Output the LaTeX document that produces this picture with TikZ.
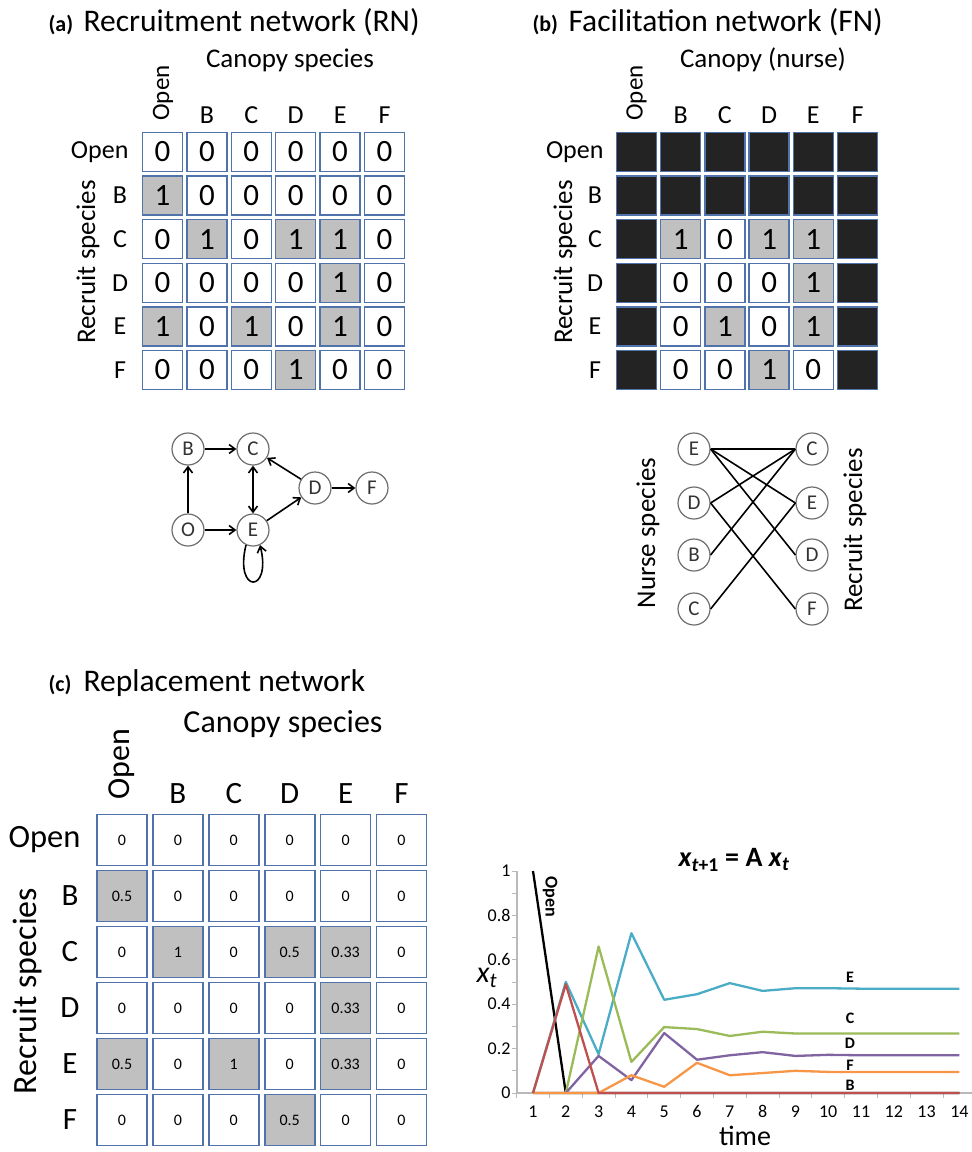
\documentclass[tikz,border=0pt]{standalone}
\usepackage{fontspec}
\setmainfont{Carlito}
\usetikzlibrary{arrows.meta}

\definecolor{cellblue}{RGB}{79,115,170}
\definecolor{cellgray}{RGB}{192,192,192}
\definecolor{cellblack}{RGB}{35,35,35}
\definecolor{axisgray}{RGB}{185,185,185}
\definecolor{nodegray}{RGB}{110,110,110}
\definecolor{serE}{RGB}{75,172,198}
\definecolor{serC}{RGB}{155,187,89}
\definecolor{serD}{RGB}{128,100,162}
\definecolor{serF}{RGB}{247,150,70}
\definecolor{serB}{RGB}{192,80,77}

\newcommand\fs[1]{\fontsize{#1}{#1}\selectfont}

\begin{document}
\begin{tikzpicture}[x=1pt,y=-1pt,
  title/.style={anchor=base west, font=\fs{31.5}},
  tag/.style={anchor=base west, font=\bfseries\fs{22}},
  axislab/.style={font=\fs{27}},
  collab/.style={anchor=base, font=\fs{26}},
  rowlab/.style={font=\fs{26}},
  cellA/.style={draw=cellblue, line width=1.5pt, minimum width=40pt, minimum height=39pt, inner sep=0pt, font=\fs{31}},
  cellC/.style={draw=cellblue, line width=1.6pt, minimum width=50pt, minimum height=51pt, inner sep=0pt, font=\fs{16}},
  spnode/.style={circle, draw=nodegray, line width=1.2pt, minimum size=32pt, inner sep=0pt, font=\fs{21}, text=black!80},
  arr/.style={line width=1.6pt, -{Straight Barb[length=6pt,width=9pt,line width=1.6pt]}},
  link/.style={line width=1.6pt},
  series/.style={line width=2.3pt, line join=round},
  ticklab/.style={font=\fs{18}},
  curvelab/.style={font=\bfseries\fs{16}}]
\useasboundingbox (0,0) rectangle (972,1152);

% ---------------- (a) Recruitment network ----------------
\node[tag] (ta) at (45,31) {(a)};
\node[title] (tta) at (80,31) {Recruitment network (RN)};
\node[axislab, anchor=base] (acan) at (290,67) {Canopy species};
\node[axislab, rotate=90, font=\fs{25}] (aopen) at (163,93) {Open};
\foreach \l [count=\c] in {B,C,D,E,F}
  \node[collab] (acol-\l) at ({162.5+44.4*\c},123) {\l};
\node[rowlab, anchor=east] (arow-O) at (132,152) {Open};
\foreach \l [count=\r] in {B,C,D,E,F}
  \node[rowlab] (arow-\l) at (120,{152+43.6*\r}) {\l};
\node[axislab, rotate=90] (arec) at (88,262) {Recruit species};

\foreach \y/\r/\row in {
  152/0/{0/white,0/white,0/white,0/white,0/white,0/white},
  195.6/1/{1/cellgray,0/white,0/white,0/white,0/white,0/white},
  239.2/2/{0/white,1/cellgray,0/white,1/cellgray,1/cellgray,0/white},
  282.8/3/{0/white,0/white,0/white,0/white,1/cellgray,0/white},
  326.4/4/{1/cellgray,0/white,1/cellgray,0/white,1/cellgray,0/white},
  370/5/{0/white,0/white,0/white,1/cellgray,0/white,0/white}}
{
  \foreach \v/\f [count=\c from 0] in \row
    \node[cellA, fill=\f] (a-\r-\c) at ({162.5+44.4*\c},\y) {\v};
}

% directed recruitment graph
\node[spnode] (gB) at (188,449) {B};
\node[spnode] (gC) at (253,449) {C};
\node[spnode] (gD) at (315,488) {D};
\node[spnode] (gF) at (372,488) {F};
\node[spnode] (gO) at (188,530) {O};
\node[spnode] (gE) at (253,530) {E};
\draw[arr] (gO) -- (gB);
\draw[arr] (gB) -- (gC);
\draw[arr] (gO) -- (gE);
\draw[arr, {Straight Barb[length=6pt,width=9pt,line width=1.6pt]}-{Straight Barb[length=6pt,width=9pt,line width=1.6pt]}] (gC) -- (gE);
\draw[arr] (gD) -- (gC);
\draw[arr] (gE) -- (gD);
\draw[arr] (gD) -- (gF);
\draw[arr] (gE.245) .. controls (234,594) and (272,594) .. (gE.295);

% ---------------- (b) Facilitation network ----------------
\node[tag] (tb) at (529,31) {(b)};
\node[title] (ttb) at (565,31) {Facilitation network (FN)};
\node[axislab, anchor=base] (bcan) at (763,67) {Canopy (nurse)};
\node[axislab, rotate=90, font=\fs{25}] (bopen) at (636.5,93) {Open};
\foreach \l [count=\c] in {B,C,D,E,F}
  \node[collab] (bcol-\l) at ({636.5+44.2*\c},123) {\l};
\node[rowlab, anchor=east] (brow-O) at (607,152) {Open};
\foreach \l [count=\r] in {B,C,D,E,F}
  \node[rowlab] (brow-\l) at (595,{152+43.6*\r}) {\l};
\node[axislab, rotate=90] (brec) at (565,262) {Recruit species};

\foreach \y/\r/\row in {
  152/0/{/cellblack,/cellblack,/cellblack,/cellblack,/cellblack,/cellblack},
  195.6/1/{/cellblack,/cellblack,/cellblack,/cellblack,/cellblack,/cellblack},
  239.2/2/{/cellblack,1/cellgray,0/white,1/cellgray,1/cellgray,/cellblack},
  282.8/3/{/cellblack,0/white,0/white,0/white,1/cellgray,/cellblack},
  326.4/4/{/cellblack,0/white,1/cellgray,0/white,1/cellgray,/cellblack},
  370/5/{/cellblack,0/white,0/white,1/cellgray,0/white,/cellblack}}
{
  \foreach \v/\f [count=\c from 0] in \row
    \node[cellA, fill=\f] (b-\r-\c) at ({636.5+44.2*\c},\y) {\v};
}

% bipartite nurse--recruit graph
\node[spnode] (nE) at (694,449) {E};
\node[spnode] (nD) at (694,503) {D};
\node[spnode] (nB) at (694,555) {B};
\node[spnode] (nC) at (694,609) {C};
\node[spnode] (rC) at (812,449) {C};
\node[spnode] (rE) at (812,503) {E};
\node[spnode] (rD) at (812,555) {D};
\node[spnode] (rF) at (812,609) {F};
\draw[link] (nE.east) -- (rC.west);
\draw[link] (nE.east) -- (rE.west);
\draw[link] (nE.east) -- (rD.west);
\draw[link] (nD.east) -- (rC.west);
\draw[link] (nD.east) -- (rF.west);
\draw[link] (nB.east) -- (rC.west);
\draw[link] (nC.east) -- (rE.west);
\node[axislab, rotate=90] (nlab) at (648,533) {Nurse species};
\node[axislab, rotate=90] (rlab) at (855,530) {Recruit species};

% ---------------- (c) Replacement network ----------------
\node[tag] (tc) at (45,691) {(c)};
\node[title] (ttc) at (80,691) {Replacement network};
\node[font=\fs{32}, anchor=base] (ccan) at (283,732) {Canopy species};
\node[font=\fs{32}, rotate=90] (copen) at (122,764) {Open};
\foreach \l [count=\c] in {B,C,D,E,F}
  \node[font=\fs{31}, anchor=base] (ccol-\l) at ({122+55.9*\c},803) {\l};
\node[font=\fs{32.5}, anchor=east] (crow-O) at (84,840) {Open};
\foreach \l [count=\r] in {B,C,D,E,F}
  \node[font=\fs{31}] (crow-\l) at (70,{840+56*\r}) {\l};
\node[font=\fs{34}, rotate=90] (crec) at (28,991) {Recruit species};

\foreach \y/\r/\row in {
  840/0/{0/white,0/white,0/white,0/white,0/white,0/white},
  896/1/{0.5/cellgray,0/white,0/white,0/white,0/white,0/white},
  952/2/{0/white,1/cellgray,0/white,0.5/cellgray,0.33/cellgray,0/white},
  1008/3/{0/white,0/white,0/white,0/white,0.33/cellgray,0/white},
  1064/4/{0.5/cellgray,0/white,1/cellgray,0/white,0.33/cellgray,0/white},
  1120/5/{0/white,0/white,0/white,0.5/cellgray,0/white,0/white}}
{
  \foreach \v/\f [count=\c from 0] in \row
    \node[cellC, fill=\f] (c-\r-\c) at ({122+55.9*\c},\y) {\v};
}

% ---------------- dynamics plot ----------------
\node[font=\bfseries\fs{28}] (ptitle) at (734,860)
  {\textit{x}\textsubscript{\textit{t}+1} = A \textit{x}\textsubscript{\textit{t}}};
\node[font=\itshape\fs{30}, inner sep=0pt] (pylab) at (487,978) {x\textsubscript{t}};
\node[font=\fs{28}, anchor=base] (pxlab) at (745,1145) {time};

\draw[axisgray, line width=1.2pt] (517,871) -- (517,1093) -- (972,1093);
\foreach \k in {0,...,10}
  \draw[axisgray, line width=1pt] (517,{1093-22.2*\k}) -- (512,{1093-22.2*\k});
\foreach \k in {1,...,14}
  \draw[axisgray, line width=1pt] ({533+32.8*(\k-1)-16.4},1093) -- ({533+32.8*(\k-1)-16.4},1098);
\foreach \v/\l in {0/0,0.2/0.2,0.4/0.4,0.6/0.6,0.8/0.8,1/1}
  \node[ticklab, anchor=east] (yt-\l) at (514,{1093-222*\v}) {\l};
\foreach \k in {1,...,14}
  \node[ticklab, anchor=base] (xt-\k) at ({533+32.8*(\k-1)},1117) {\k};

\begin{scope}[shift={(500.2,1093)}, x=32.8pt, y=222pt]
  \draw[series, black] plot coordinates {(1,1) (2,0) (3,0) (14,0)};
  \draw[series, serE] plot coordinates {(1,0) (2,0.5) (3,0.175) (4,0.72) (5,0.42) (6,0.445) (7,0.495) (8,0.46) (9,0.472) (10,0.472) (11,0.47) (12,0.47) (13,0.47) (14,0.47)};
  \draw[series, serC] plot coordinates {(1,0) (2,0) (3,0.66) (4,0.14) (5,0.297) (6,0.288) (7,0.257) (8,0.276) (9,0.268) (10,0.268) (11,0.268) (12,0.268) (13,0.268) (14,0.268)};
  \draw[series, serD] plot coordinates {(1,0) (2,0) (3,0.167) (4,0.058) (5,0.27) (6,0.15) (7,0.17) (8,0.184) (9,0.167) (10,0.172) (11,0.17) (12,0.17) (13,0.17) (14,0.17)};
  \draw[series, serF] plot coordinates {(1,0) (2,0) (3,0) (4,0.08) (5,0.028) (6,0.136) (7,0.08) (8,0.09) (9,0.1) (10,0.095) (11,0.095) (12,0.095) (13,0.095) (14,0.095)};
  \draw[series, serB] plot coordinates {(1,0) (2,0.49) (3,0) (14,0)};
\end{scope}

\node[curvelab, font=\bfseries\fs{18}, rotate=-90] (lOpen) at (550,897) {Open};
\node[curvelab] (lE) at (850,977) {E};
\node[curvelab] (lC) at (850,1018) {C};
\node[curvelab] (lD) at (850,1043) {D};
\node[curvelab] (lF) at (850,1065) {F};
\node[curvelab] (lB) at (850,1085) {B};
\end{tikzpicture}
\end{document}
